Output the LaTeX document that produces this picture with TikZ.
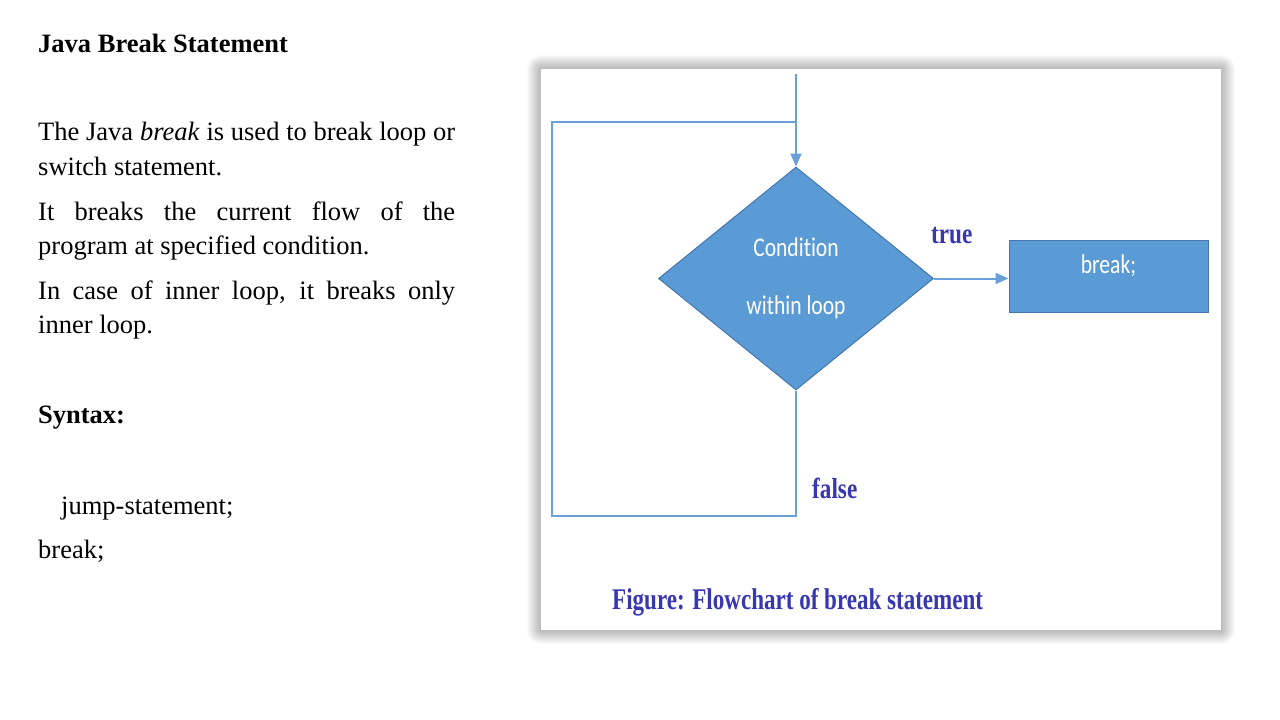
\documentclass[tikz,border=0pt]{standalone}
\usepackage{fontspec}
\setmainfont{Liberation Serif}
\newfontfamily\calibrifont[Ligatures=NoCommon]{Carlito}
\usetikzlibrary{shapes.geometric,arrows.meta}
\definecolor{flowblue}{HTML}{5B9BD5}
\definecolor{flowedge}{HTML}{4676AD}
\definecolor{linkblue}{HTML}{6A9FD8}
\definecolor{labelblue}{RGB}{55,55,178}

\begin{document}
\begin{tikzpicture}[x=1pt,y=-1pt,
  bodytext/.style={anchor=base west,inner sep=0pt,font=\fontsize{26.5}{34}\selectfont},
  headtext/.style={anchor=base west,inner sep=0pt,font=\fontsize{26.5}{34}\selectfont\bfseries},
  flowline/.style={draw=linkblue,line width=2pt},
  flowarrow/.style={flowline,-{Triangle[length=13pt,width=11pt]}},
  decision/.style={diamond,fill=flowblue,draw=flowedge,line width=1pt,
    minimum width=275pt,minimum height=223pt,inner sep=0pt,text=white,
    align=center,font=\calibrifont\fontsize{27}{58}\selectfont},
  action/.style={rectangle,fill=flowblue,draw=flowedge,line width=1pt,
    minimum width=199pt,minimum height=72pt,inner sep=0pt,text=white,
    text height=10pt,text depth=16pt,font=\calibrifont\fontsize{27}{30}\selectfont},
  branchlabel/.style={anchor=base west,inner sep=0pt,text=labelblue,
    font=\fontsize{29}{30}\selectfont\bfseries},
  captiontext/.style={anchor=base west,inner sep=0pt,text=labelblue,
    font=\fontsize{30}{32}\selectfont\bfseries},
]
% page
\useasboundingbox[fill=white] (0,0) rectangle (1280,720);

% left column: heading and paragraphs
\node[headtext] (title) at (38,52) {Java Break Statement};
\node[bodytext] (p1a) at (38,140) {\makebox[417pt][s]{The Java \textit{break} is used to break loop or}};
\node[bodytext] (p1b) at (38,175) {switch statement.};
\node[bodytext] (p2a) at (38,220) {\makebox[417pt][s]{It breaks the current flow of the}};
\node[bodytext] (p2b) at (38,254) {program at specified condition.};
\node[bodytext] (p3a) at (38,299) {\makebox[417pt][s]{In case of inner loop, it breaks only}};
\node[bodytext] (p3b) at (38,333) {inner loop.};
\node[headtext] (syntax) at (38,423) {Syntax:};
\node[bodytext] (jump) at (61,514) {jump-statement;};
\node[bodytext] (brk-stmt) at (38,558) {break;};

% figure panel with a soft shadow all round
\foreach \i in {1,...,14}
  \fill[black,opacity=0.02,rounded corners=\i pt] (541-\i,69-\i) rectangle (1221+\i,630+\i);
\fill[white] (541,69) rectangle (1221,630);

% flowchart
\node[decision] (cond) at (796,278.5) {\scalebox{0.8}[1]{Condition}\\\scalebox{0.8}[1]{within loop}};
\node[action] (brk) at (1108.5,276) {\scalebox{0.8}[1]{break;}};

\coordinate (entry) at (796,74);
\coordinate (looptr) at (796,122);
\coordinate (looptl) at (552,122);
\coordinate (loopbl) at (552,516);
\coordinate (loopbr) at (796,516);

\draw[flowarrow] (entry) -- (cond.north);
\draw[flowline] (cond.south) -- (loopbr) -- (loopbl) -- (looptl) -- (looptr);
\draw[flowarrow] (cond.east) -- (cond.east -| brk.west);

\node[branchlabel] (truelbl) at (931,243) {\scalebox{0.8}[1]{true}};
\node[branchlabel] (falselbl) at (812,498) {\scalebox{0.8}[1]{false}};

\node[captiontext] (caption) at (612,609) {\scalebox{0.768}[1]{Figure: Flowchart of break statement}};
\end{tikzpicture}
\end{document}
